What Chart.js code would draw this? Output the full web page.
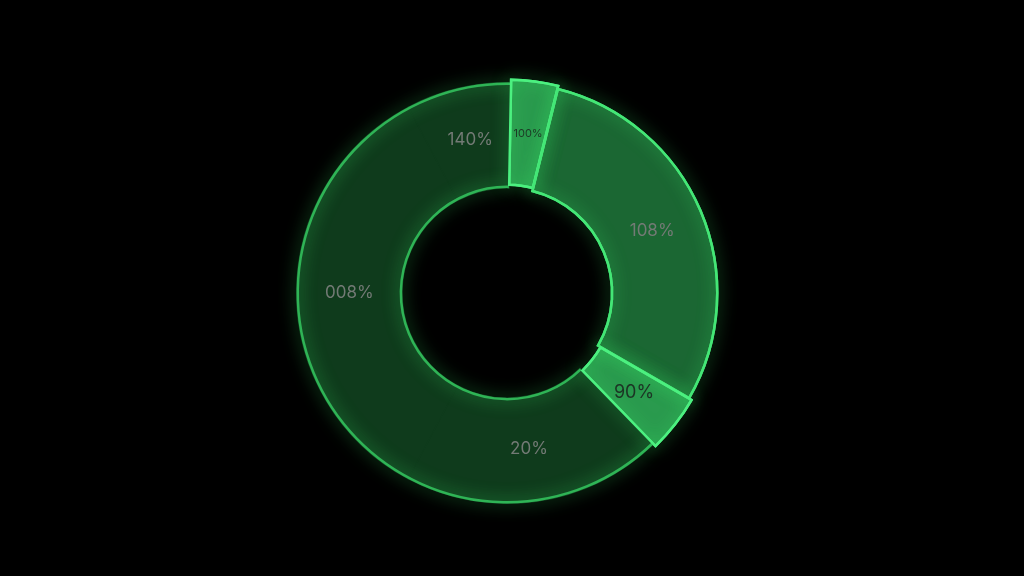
<!DOCTYPE html>
<html>
<head>
<meta charset="utf-8">
<script src="https://cdn.jsdelivr.net/npm/chart.js@4"></script>
<style>
  html, body { margin: 0; padding: 0; background: #000; }
  #wrap { width: 1024px; height: 576px; position: relative; }
</style>
</head>
<body>
<div id="wrap"><canvas id="ring"></canvas></div>
<script>
// data
const labels = ['100%', '108%', '90%', '20%', '008%', '140%'];
const values = [13, 106, 16, 72, 124, 29];
const darkGroup = [3, 4, 5]; // segments drawn as one dark band

const fills = ['#2a9a4e', '#1b6733', '#2a9a4e', '#0f3b1c', '#0f3b1c', '#0f3b1c'];
// dark ones get a border in their own fill colour so the seams vanish
const borders = ['#4cf080', '#44e676', '#4cf080', '#0f3b1c', '#0f3b1c', '#0f3b1c'];
const offsets = [7, 0, 7, 0, 0, 0];
const textColors = ['#1c3a25', '#737a75', '#1c3424', '#737a75', '#737a75', '#737a75'];
const fontSizes = [11, 17, 18, 17, 17, 17];

// glowing edges: borders are stroked again with a shadow after the fills
const glow = {
    id: 'glow',
    afterDatasetsDraw(chart) {
        const c = chart.ctx;
        const arcs = chart.getDatasetMeta(0).data;

        c.save();
        c.shadowColor = 'rgba(60, 235, 105, 0.8)';
        c.shadowBlur = 16;

        // outline of the dark band (outer and inner edges only)
        const first = arcs[darkGroup[0]];
        const last = arcs[darkGroup[darkGroup.length - 1]];
        c.strokeStyle = '#2fb456';
        c.lineWidth = 2.5;
        c.beginPath();
        c.arc(first.x, first.y, first.outerRadius - 1, first.startAngle, last.endAngle);
        c.stroke();
        c.beginPath();
        c.arc(first.x, first.y, first.innerRadius + 1, first.startAngle, last.endAngle);
        c.stroke();

        // bright segments: border only
        arcs.forEach((arc, i) => {
            if (darkGroup.includes(i)) return;
            const bg = arc.options.backgroundColor;
            arc.options.backgroundColor = 'rgba(0,0,0,0)';
            arc.draw(c);
            arc.options.backgroundColor = bg;
        });
        c.restore();

        // value labels at arc centres
        arcs.forEach((arc, i) => {
            const p = arc.tooltipPosition();
            c.save();
            c.font = fontSizes[i] + 'px Inter, "Noto Sans", sans-serif';
            c.fillStyle = textColors[i];
            c.textAlign = 'center';
            c.textBaseline = 'middle';
            c.fillText(labels[i], p.x, p.y);
            c.restore();
        });
    }
};

new Chart(document.getElementById('ring'), {
    type: 'doughnut',
    data: {
        labels: labels,
        datasets: [{
            data: values,
            backgroundColor: fills,
            borderColor: borders,
            borderWidth: [2.5, 2.5, 2.5, 1.5, 1.5, 1.5],
            offset: offsets,
            borderJoinStyle: 'miter'
        }]
    },
    options: {
        responsive: true,
        maintainAspectRatio: false,
        animation: false,
        rotation: 1,
        cutout: '50%',
        layout: {
            padding: { top: 78, bottom: 68, left: 0, right: 10 }
        },
        plugins: {
            legend: { display: false },
            tooltip: { enabled: false }
        }
    },
    plugins: [glow]
});
</script>
</body>
</html>
